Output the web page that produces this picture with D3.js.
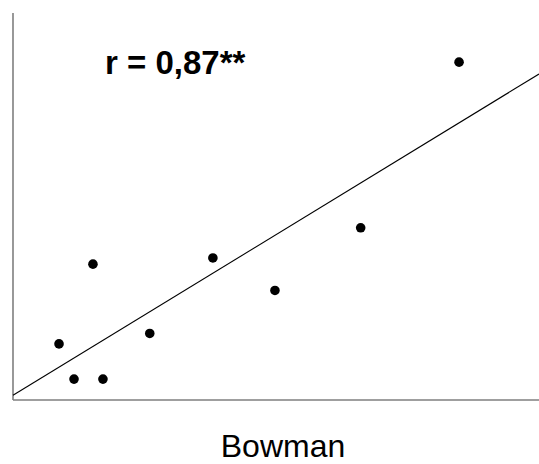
<!DOCTYPE html>
<html>
<head>
<meta charset="utf-8">
<script src="https://cdn.jsdelivr.net/npm/d3@7"></script>
<style>
  html, body { margin: 0; padding: 0; background: #fff; }
</style>
</head>
<body>
<div id="chart"></div>
<script>
// Bowman values (x) and the paired measure (y)
var xValues = [8.75, 11.6, 15.2, 17.1, 26.0, 38.0, 49.8, 66.1, 84.8];
var yValues = [14.5, 5.4, 35.1, 5.4, 17.2, 36.7, 28.3, 44.5, 87.3];
var xLabel = "Bowman";
var rLabel = "r = 0,87**";

var width = 539;
var height = 464;
var margin = ({ top: 13, right: 0, bottom: 64, left: 13 });

var x = d3.scaleLinear()
    .domain([0, 100])
    .range([margin.left, width - margin.right]);
var y = d3.scaleLinear()
    .domain([0, 100])
    .range([height - margin.bottom, margin.top]);

// least squares fit for the trend line
var fit = (xs, ys) => {
    let mx = d3.mean(xs), my = d3.mean(ys);
    let sxy = d3.sum(xs, (d, i) => (d - mx) * (ys[i] - my));
    let sxx = d3.sum(xs, d => (d - mx) * (d - mx));
    let slope = sxy / sxx;
    return { slope: slope, intercept: my - slope * mx };
};
var line = fit(xValues, yValues);

var svg = d3.select("#chart").append("svg")
    .attr("width", width)
    .attr("height", height)
    .style("font-family", "Liberation Sans, Arial, sans-serif");

// axes: plain lines, no ticks
svg.append("line")
    .attr("x1", x(0)).attr("x2", x(0))
    .attr("y1", y(100)).attr("y2", y(0))
    .attr("stroke", "#7f7f7f")
    .attr("stroke-width", 1.6);
svg.append("line")
    .attr("x1", x(0)).attr("x2", x(100))
    .attr("y1", y(0)).attr("y2", y(0))
    .attr("stroke", "#7f7f7f")
    .attr("stroke-width", 1.6);

// trend line
svg.append("line")
    .attr("x1", x(0))
    .attr("y1", y(line.intercept))
    .attr("x2", x(100))
    .attr("y2", y(line.intercept + line.slope * 100))
    .attr("stroke", "#000")
    .attr("stroke-width", 1.1);

svg.append("g")
    .selectAll("circle")
    .data(xValues)
    .join("circle")
    .attr("cx", d => x(d))
    .attr("cy", (d, i) => y(yValues[i]))
    .attr("r", 4.8)
    .attr("fill", "#000");

svg.append("text")
    .attr("x", 105)
    .attr("y", 74)
    .attr("font-size", 33)
    .attr("font-weight", "bold")
    .attr("fill", "#000")
    .text(rLabel);

svg.append("text")
    .attr("x", 283)
    .attr("y", 457)
    .attr("text-anchor", "middle")
    .attr("font-size", 32)
    .attr("fill", "#000")
    .text(xLabel);
</script>
</body>
</html>
